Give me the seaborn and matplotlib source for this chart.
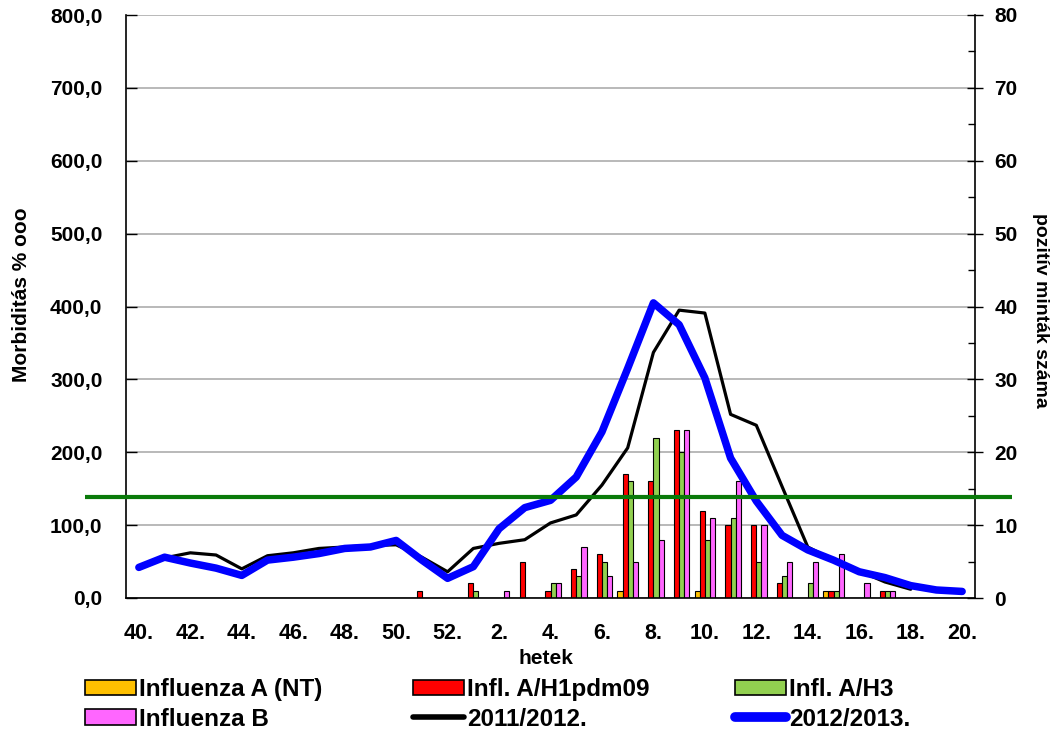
import matplotlib
matplotlib.use("Agg")
import matplotlib.pyplot as plt
import matplotlib.ticker as mticker
from matplotlib.patches import Patch
from matplotlib.lines import Line2D
import numpy as np
import pandas as pd
import seaborn as sns

# ---------------- data ----------------
weeks = [40, 41, 42, 43, 44, 45, 46, 47, 48, 49, 50, 51, 52,
         1, 2, 3, 4, 5, 6, 7, 8, 9, 10, 11, 12, 13, 14, 15, 16, 17, 18, 19, 20]
week_labels = [f"{w}." for w in weeks]

# positive samples per week (right axis)
infA_nt = {7: 1, 10: 1, 15: 1}
infA_h1 = {51: 1, 1: 2, 3: 5, 4: 1, 5: 4, 6: 6, 7: 17, 8: 16, 9: 23, 10: 12,
           11: 10, 12: 10, 13: 2, 15: 1, 17: 1}
infA_h3 = {1: 1, 4: 2, 5: 3, 6: 5, 7: 16, 8: 22, 9: 20, 10: 8, 11: 11, 12: 5,
           13: 3, 14: 2, 15: 1, 17: 1}
infB = {2: 1, 4: 2, 5: 7, 6: 3, 7: 5, 8: 8, 9: 23, 10: 11, 11: 16, 12: 10,
        13: 5, 14: 5, 15: 6, 16: 2, 17: 1}

# morbidity (left axis)
season_1112 = [np.nan, 55, 62, 59, 40, 58, 62, 68, 70, 72, 73, 56, 36,
               68, 75, 80, 103, 114, 155, 206, 337, 395, 391, 252, 237, 153,
               70, 52, 37, 22, 12, np.nan, np.nan]
season_1213 = [42, 56, 48, 41, 31, 52, 56, 61, 68, 70, 79, 52, 27,
               43, 95, 124, 134, 166, 228, 315, 405, 375, 302, 192, 133, 86,
               66, 52, 36, 28, 17, 11, 9]
threshold = 139

series_names = ["Influenza A (NT)", "Infl. A/H1pdm09", "Infl. A/H3", "Influenza B"]
series_colors = ["#FFC000", "#FF0000", "#92D050", "#FF66FF"]
line_names = ["2011/2012.", "2012/2013."]

# ---------------- build table ----------------
rows = []
for name, d in zip(series_names, [infA_nt, infA_h1, infA_h3, infB]):
    for w, v in d.items():
        rows.append({"week": f"{w}.", "type": name, "count": v})
bars_df = pd.DataFrame(rows)

pos = {lab: i for i, lab in enumerate(week_labels)}
lines_df = pd.DataFrame({"x": [pos[l] for l in week_labels],
                         "s1": season_1112, "s2": season_1213})

# ---------------- style ----------------
sns.set_theme(style="white")
FONT = "Liberation Sans"
plt.rcParams["font.family"] = [FONT, "DejaVu Sans"]
plt.rcParams["font.weight"] = "bold"
for k in ("text.color", "axes.labelcolor", "xtick.color", "ytick.color"):
    plt.rcParams[k] = "black"

fig = plt.figure(figsize=(10.54, 7.31), dpi=100)
ax = fig.add_axes([126 / 1054, 1 - 598 / 731, (975 - 126) / 1054, (598 - 15) / 731])

sns.barplot(data=bars_df, x="week", y="count", hue="type", order=week_labels,
            hue_order=series_names, palette=series_colors, saturation=1,
            width=0.8, edgecolor="black", linewidth=0.8, ax=ax, legend=False,
            errorbar=None)
ax.set_xlim(-0.5, len(weeks) - 0.5)
ax.set_ylim(0, 80)
ax.set_axisbelow(True)
ax.yaxis.grid(True, color="#a6a6a6", linewidth=1.1)
ax.xaxis.grid(False)

ax2 = ax.twinx()
sns.lineplot(data=lines_df, x="x", y="s1", color="black", linewidth=2.3, ax=ax2)
sns.lineplot(data=lines_df, x="x", y="s2", color="#0000FF", linewidth=5.4, ax=ax2)
ax2.plot([-0.048, 1.044], [threshold, threshold], color="#0A7A0A", linewidth=3.0,
         transform=ax2.get_yaxis_transform(), clip_on=False, solid_capstyle="butt")
ax2.set_ylim(0, 800)
ax2.set_xlim(-0.5, len(weeks) - 0.5)

# axis sides swapped: lines (left scale) on top of bars (right scale)
ax.yaxis.tick_right()
ax.yaxis.set_label_position("right")
ax2.yaxis.tick_left()
ax2.yaxis.set_label_position("left")

for a in (ax, ax2):
    a.set_xlabel("")
    a.set_ylabel("")
    for s in a.spines.values():
        s.set_visible(False)
for side in ("left", "right", "bottom"):
    ax.spines[side].set_visible(True)
    ax.spines[side].set_color("black")
    ax.spines[side].set_linewidth(1.2)

# x ticks
ax.set_xticks(range(len(weeks)))
ax.set_xticklabels([lab if i % 2 == 0 else "" for i, lab in enumerate(week_labels)])
ax.set_xticks(np.arange(-0.5, len(weeks), 1.0), minor=True)
ax.tick_params(axis="x", which="major", direction="in", length=6, width=1,
               color="black", pad=18, labelsize=15.5)
ax.tick_params(axis="x", which="minor", direction="out", length=6, width=1,
               color="black")

# right axis ticks (samples)
ax.set_yticks(range(0, 81, 10))
ax.yaxis.set_minor_locator(mticker.MultipleLocator(5))
ax.tick_params(axis="y", which="major", direction="inout", length=12, width=1,
               color="black", pad=8, labelsize=15, left=False, right=True)
ax.tick_params(axis="y", which="minor", direction="in", length=5, width=1,
               color="black", left=False, right=True)

# left axis ticks (morbidity)
ax2.set_yticks(range(0, 801, 100))
ax2.yaxis.set_major_formatter(mticker.FuncFormatter(lambda v, p: f"{v:.1f}".replace(".", ",")))
ax2.tick_params(axis="y", which="major", direction="in", length=8, width=1,
                color="black", pad=17, labelsize=15, left=True, right=False)
ax2.tick_params(axis="x", bottom=False, labelbottom=False)

for lab in ax.get_xticklabels() + ax.get_yticklabels() + ax2.get_yticklabels():
    lab.set_fontweight("bold")

# axis titles
fig.text(22 / 1054, 1 - 295 / 731, "Morbiditás % ooo", rotation=90, ha="center",
         va="center", fontsize=15, fontweight="bold")
fig.text(1040 / 1054, 1 - 310 / 731, "pozitív minták száma", rotation=-90,
         ha="center", va="center", fontsize=14, fontweight="bold")
fig.text(546 / 1054, 1 - 658 / 731, "hetek", ha="center", va="center",
         fontsize=15, fontweight="bold")

# legend (three columns)
patch_h = [Patch(facecolor=c, edgecolor="black", linewidth=1.2) for c in series_colors]
line_h = [Line2D([], [], color="black", linewidth=4, solid_capstyle="round"),
          Line2D([], [], color="#0000FF", linewidth=7, solid_capstyle="round")]
cols = [([patch_h[0], patch_h[3]], [series_names[0], series_names[3]], 85),
        ([patch_h[1], line_h[0]], [series_names[1], line_names[0]], 413),
        ([patch_h[2], line_h[1]], [series_names[2], line_names[1]], 735)]
for hs, ls, x0 in cols:
    fig.legend(hs, ls, loc="upper left", bbox_to_anchor=(x0 / 1054, 1 - 678 / 731),
               frameon=False, borderpad=0, borderaxespad=0, handlelength=2.1,
               handleheight=0.6, handletextpad=0.12, labelspacing=0.27,
               prop={"family": [FONT], "weight": "bold", "size": 17.5})

fig.savefig("out.png", dpi=100)
